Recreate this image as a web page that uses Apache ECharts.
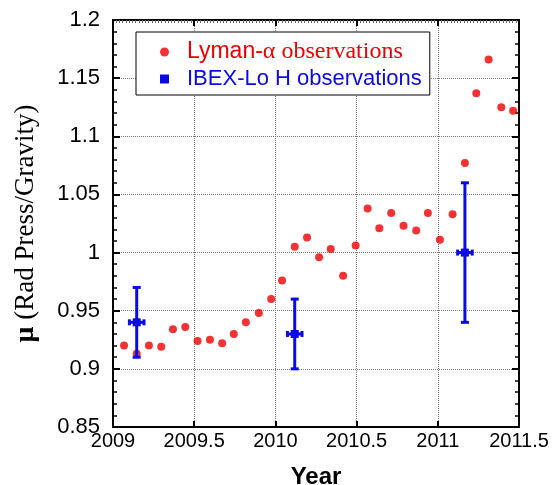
<!DOCTYPE html>
<html>
<head>
<meta charset="utf-8">
<script src="https://cdn.jsdelivr.net/npm/echarts@6/dist/echarts.min.js"></script>
<style>
  html, body { margin: 0; padding: 0; background: #fff; }
  #chart { width: 555px; height: 485px; }
</style>
</head>
<body>
<div id="chart"></div>
<script>
// Lyman-alpha derived radiation pressure ratio
const lymanYear = [2009.068, 2009.146, 2009.221, 2009.297, 2009.369, 2009.445, 2009.521, 2009.597,
  2009.672, 2009.744, 2009.818, 2009.898, 2009.974, 2010.041, 2010.119, 2010.195, 2010.269,
  2010.341, 2010.417, 2010.494, 2010.568, 2010.640, 2010.713, 2010.789, 2010.867, 2010.939,
  2011.013, 2011.091, 2011.167, 2011.237, 2011.313, 2011.391, 2011.464];
const lymanMu = [0.920, 0.913, 0.920, 0.919, 0.934, 0.936, 0.924, 0.925,
  0.922, 0.930, 0.940, 0.948, 0.960, 0.976, 1.005, 1.013, 0.996,
  1.003, 0.980, 1.006, 1.038, 1.021, 1.034, 1.023, 1.019, 1.034,
  1.011, 1.033, 1.077, 1.137, 1.166, 1.125, 1.122];

// IBEX-Lo hydrogen observations with uncertainties
const ibexYear = [2009.146, 2010.119, 2011.167];
const ibexMu = [0.94, 0.93, 1.00];
const ibexMuErr = [0.03, 0.03, 0.06];
const ibexYearErr = [0.045, 0.045, 0.045];

const yearTicks = { min: 2009, max: 2011.5, step: 0.5 };
const muTicks = { min: 0.85, max: 1.2, step: 0.05 };

const seriesNames = ['Lyman-\u03b1 observations', 'IBEX-Lo H observations'];

const RED = '#f00000';
const BLUE = '#0a0ae6';

const chart = echarts.init(document.getElementById('chart'), null, { renderer: 'canvas' });

function fmt(v) { return String(+(+v).toFixed(2)); }

const gridLine = { show: true, lineStyle: { color: '#777', type: [1, 1], width: 1 } };

const option = {
  animation: false,
  backgroundColor: '#fff',
  grid: { left: 113, right: 36, top: 20, bottom: 58, containLabel: false, outerBoundsMode: 'none' },
  legend: {
    orient: 'vertical',
    left: 136,
    top: 32,
    backgroundColor: '#fff',
    borderColor: '#000',
    borderWidth: 1,
    padding: [8, 8, 5, 24],
    itemGap: 4,
    itemWidth: 9,
    itemHeight: 9,
    data: [
      { name: seriesNames[0], icon: 'circle', itemStyle: { color: RED } },
      { name: seriesNames[1], icon: 'rect', itemStyle: { color: BLUE } }
    ],
    formatter: function (name) {
      if (name === seriesNames[0]) return '{a|Lyman-}{b|\u03b1 observations}';
      return '{c|' + name + '}';
    },
    textStyle: {
      padding: [0, 0, 0, 13],
      rich: {
        a: { fontFamily: 'Liberation Sans, Arial', fontSize: 23, color: RED },
        b: { fontFamily: 'Liberation Serif, Times New Roman', fontSize: 24, color: RED },
        c: { fontFamily: 'Liberation Sans, Arial', fontSize: 22, color: BLUE }
      }
    }
  },
  xAxis: [
    {
      type: 'value',
      min: yearTicks.min, max: yearTicks.max, interval: yearTicks.step,
      name: 'Year',
      nameLocation: 'middle',
      nameGap: 38,
      nameTextStyle: { fontFamily: 'Liberation Sans, Arial', fontWeight: 'bold', fontSize: 24, color: '#000' },
      axisLine: { onZero: false, lineStyle: { color: '#000', width: 2 } },
      axisTick: { inside: true, length: 6, lineStyle: { color: '#000', width: 2 } },
      axisLabel: { formatter: fmt, margin: 4, fontFamily: 'Liberation Sans, Arial', fontSize: 20, color: '#000' },
      splitLine: gridLine
    },
    {
      type: 'value', position: 'top',
      min: yearTicks.min, max: yearTicks.max, interval: yearTicks.step,
      axisLine: { onZero: false, lineStyle: { color: '#000', width: 2 } },
      axisTick: { inside: true, length: 6, lineStyle: { color: '#000', width: 2 } },
      minorTick: { show: true, splitNumber: 25, length: 3, lineStyle: { color: '#666', width: 1 } },
      axisLabel: { show: false },
      splitLine: { show: false }
    }
  ],
  yAxis: [
    {
      type: 'value',
      min: muTicks.min, max: muTicks.max, interval: muTicks.step,
      name: '{m|\u03bc}  {t|(Rad Press/Gravity)}',
      nameLocation: 'middle',
      nameGap: 73,
      nameRotate: 90,
      nameTextStyle: {
        rich: {
          m: { fontFamily: 'Liberation Serif, Times New Roman', fontWeight: 'bold', fontSize: 28, color: '#000' },
          t: { fontFamily: 'Liberation Serif, Times New Roman', fontSize: 27, color: '#000' }
        }
      },
      axisLine: { onZero: false, lineStyle: { color: '#000', width: 2 } },
      axisTick: { inside: true, length: 7, lineStyle: { color: '#000', width: 2 } },
      minorTick: { show: true, splitNumber: 5, length: 4, lineStyle: { color: '#000', width: 1.5 } },
      axisLabel: { formatter: fmt, margin: 13, fontFamily: 'Liberation Sans, Arial', fontSize: 22, color: '#000' },
      splitLine: gridLine
    },
    {
      type: 'value', position: 'right',
      min: muTicks.min, max: muTicks.max, interval: muTicks.step,
      axisLine: { onZero: false, lineStyle: { color: '#000', width: 2 } },
      axisTick: { inside: true, length: 7, lineStyle: { color: '#000', width: 2 } },
      minorTick: { show: true, splitNumber: 5, length: 4, lineStyle: { color: '#000', width: 1.5 } },
      axisLabel: { show: false },
      splitLine: { show: false }
    }
  ],
  series: [
    {
      name: seriesNames[0],
      type: 'scatter',
      symbol: 'circle',
      symbolSize: 8,
      itemStyle: { color: RED },
      data: lymanYear.map((x, i) => [x, lymanMu[i]]),
      z: 3
    },
    {
      name: seriesNames[1],
      type: 'custom',
      itemStyle: { color: BLUE },
      data: ibexYear.map((x, i) => [x, ibexMu[i], ibexMuErr[i], ibexYearErr[i]]),
      renderItem: function (params, api) {
        const x = api.value(0), y = api.value(1), dy = api.value(2), dx = api.value(3);
        const c = api.coord([x, y]);
        const top = api.coord([x, y + dy]);
        const bot = api.coord([x, y - dy]);
        const left = api.coord([x - dx, y]);
        const right = api.coord([x + dx, y]);
        const st = { stroke: BLUE, lineWidth: 3 };
        const capV = 4, capH = 3;
        return {
          type: 'group',
          children: [
            { type: 'line', shape: { x1: top[0], y1: top[1], x2: bot[0], y2: bot[1] }, style: st },
            { type: 'line', shape: { x1: top[0] - capV, y1: top[1], x2: top[0] + capV, y2: top[1] }, style: st },
            { type: 'line', shape: { x1: bot[0] - capV, y1: bot[1], x2: bot[0] + capV, y2: bot[1] }, style: st },
            { type: 'line', shape: { x1: left[0], y1: left[1], x2: right[0], y2: right[1] }, style: st },
            { type: 'line', shape: { x1: left[0], y1: left[1] - capH, x2: left[0], y2: left[1] + capH }, style: st },
            { type: 'line', shape: { x1: right[0], y1: right[1] - capH, x2: right[0], y2: right[1] + capH }, style: st },
            { type: 'rect', shape: { x: c[0] - 4, y: c[1] - 4, width: 8, height: 8 }, style: { fill: BLUE } }
          ]
        };
      },
      z: 4
    }
  ]
};

chart.setOption(option);
</script>
</body>
</html>
